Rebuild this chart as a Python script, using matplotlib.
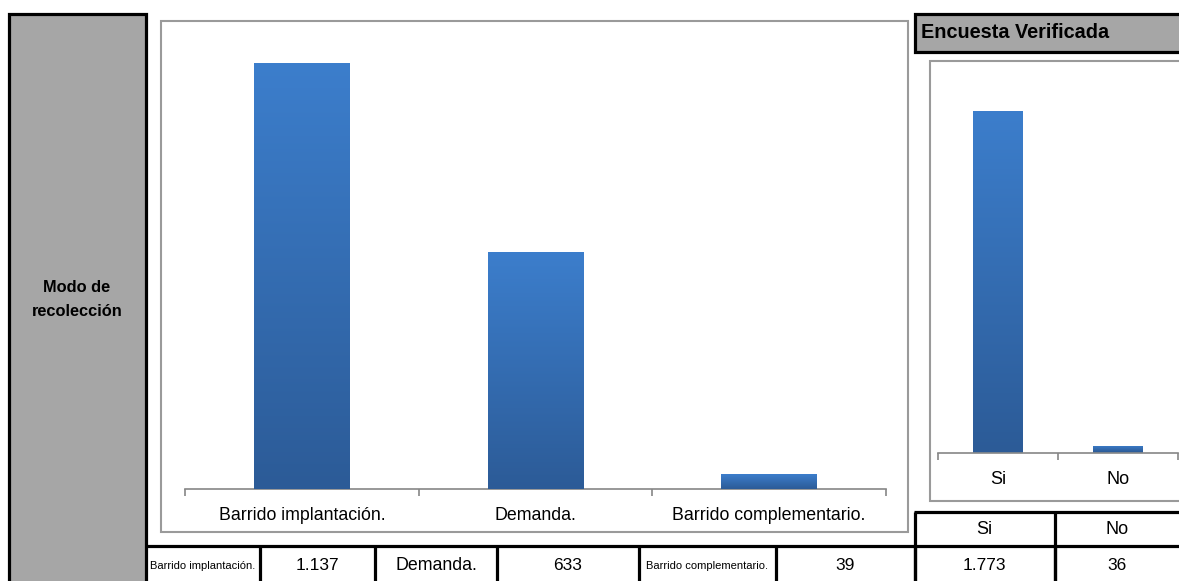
import matplotlib
matplotlib.use("Agg")
import matplotlib.pyplot as plt
import numpy as np
from matplotlib.patches import Rectangle
from matplotlib.colors import LinearSegmentedColormap

# ---------------- data ----------------
modo_title = "Modo de\nrecolección"
modo_cats = ["Barrido implantación.", "Demanda.", "Barrido complementario."]
modo_vals = [1137, 633, 39]
modo_ymax = 1200

enc_title = "Encuesta Verificada"
enc_cats = ["Si", "No"]
enc_vals = [1773, 36]
enc_ymax = 2000


def fmt(v):
    return f"{v:,}".replace(",", ".")


FONT = ['Liberation Sans Narrow', 'Liberation Sans', 'DejaVu Sans']
plt.rcParams['font.family'] = FONT

W, H = 1179, 581
fig = plt.figure(figsize=(W / 100, H / 100), dpi=100)
bg = fig.add_axes([0, 0, 1, 1])
bg.set_xlim(0, W)
bg.set_ylim(H, 0)
bg.axis('off')

GRAY = '#A6A6A6'
FRAME = '#9A9A9A'
AXIS = '#868686'
grad = LinearSegmentedColormap.from_list('g', ['#2C5B97', '#3C7ECC'])


def ax_rect(x0, x1, y_top, y_bot):
    return [x0 / W, 1 - y_bot / H, (x1 - x0) / W, (y_bot - y_top) / H]


def hline(x0, x1, y, lw=2.3, c='black'):
    bg.plot([x0, x1], [y, y], color=c, lw=lw, solid_capstyle='butt', zorder=5)


def vline(x, y0, y1, lw=2.3, c='black'):
    bg.plot([x, x], [y0, y1], color=c, lw=lw, solid_capstyle='butt', zorder=5)


# ---------------- left gray panel ----------------
bg.add_patch(Rectangle((8.5, 13.5), 137.5, 580, facecolor=GRAY,
                       edgecolor='black', lw=2.3, zorder=2))
bg.text(77, 300, modo_title, ha='center', va='center', fontsize=11.8,
        fontweight='bold', linespacing=1.75, zorder=6)

# ---------------- right header ----------------
bg.add_patch(Rectangle((915, 13.5), 280, 38, facecolor=GRAY,
                       edgecolor='black', lw=2.3, zorder=2))
bg.text(921, 33, enc_title, ha='left', va='center', fontsize=14.3,
        fontweight='bold', zorder=6)

# ---------------- chart frames ----------------
bg.add_patch(Rectangle((161, 21), 747, 511, facecolor='white',
                       edgecolor=FRAME, lw=1.5, zorder=1))
bg.add_patch(Rectangle((930, 61), 280, 440, facecolor='white',
                       edgecolor=FRAME, lw=1.5, zorder=1))


def bar_chart(rect, cats, vals, ymax, label_size, pad):
    ax = fig.add_axes(rect)
    ax.patch.set_alpha(0)
    n = len(cats)
    x = np.arange(n)
    bars = ax.bar(x, vals, width=0.41, color='#3470B5', zorder=2)
    gimg = np.linspace(0, 1, 256).reshape(-1, 1)
    for b in bars:
        bx, by = b.get_x(), b.get_y()
        bw, bh = b.get_width(), b.get_height()
        im = ax.imshow(gimg, cmap=grad, aspect='auto', origin='lower',
                       extent=[bx, bx + bw, by, by + bh], zorder=3)
        im.set_clip_path(b)
    ax.set_xlim(-0.5, n - 0.5)
    ax.set_ylim(0, ymax)
    for s in ['top', 'right', 'left']:
        ax.spines[s].set_visible(False)
    ax.spines['bottom'].set_color(AXIS)
    ax.spines['bottom'].set_linewidth(1.2)
    ax.set_yticks([])
    ax.set_xticks(np.arange(n + 1) - 0.5, minor=True)
    ax.tick_params(axis='x', which='minor', length=5, width=1.2,
                   color=AXIS, direction='out')
    ax.set_xticks(x)
    ax.set_xticklabels(cats, fontsize=label_size)
    ax.tick_params(axis='x', which='major', length=0, pad=pad)
    return ax


bar_chart(ax_rect(185, 886, 39.5, 488.5), modo_cats, modo_vals, modo_ymax, 12.8, 13.5)
bar_chart(ax_rect(938, 1178, 67.5, 452.5), enc_cats, enc_vals, enc_ymax, 13, 13)

# ---------------- tables ----------------
row_top, row_mid, row_bot = 512, 545.5, 581
# header row of right table
hline(914, 1179, row_top)
vline(915, row_top, row_bot + 2)
vline(1054.5, row_top, row_bot + 2)
for cx, txt in [((915 + 1054.5) / 2, enc_cats[0]), ((1054.5 + 1179) / 2, enc_cats[1])]:
    bg.text(cx, 529.5, txt, ha='center', va='center', fontsize=13, zorder=6)

# bottom data row
hline(145, 1179, row_mid)
edges = [146, 260, 375, 497, 638.5, 776, 915, 1054.5, 1190]
for e in edges[1:-1]:
    vline(e, row_mid, row_bot + 2)
cells = []
for c, v in zip(modo_cats, modo_vals):
    small = len(c) > 12
    cells.append((c, 8 if small else 12.8))
    cells.append((fmt(v), 12.5))
for v in enc_vals:
    cells.append((fmt(v), 12.5))
for i, (txt, fs) in enumerate(cells):
    x1 = edges[i + 1] if i + 1 < len(edges) - 1 else 1179
    cx = (edges[i] + x1) / 2
    bg.text(cx, 566, txt, ha='center', va='center', fontsize=fs, zorder=6)

fig.savefig('out.png', dpi=100)
